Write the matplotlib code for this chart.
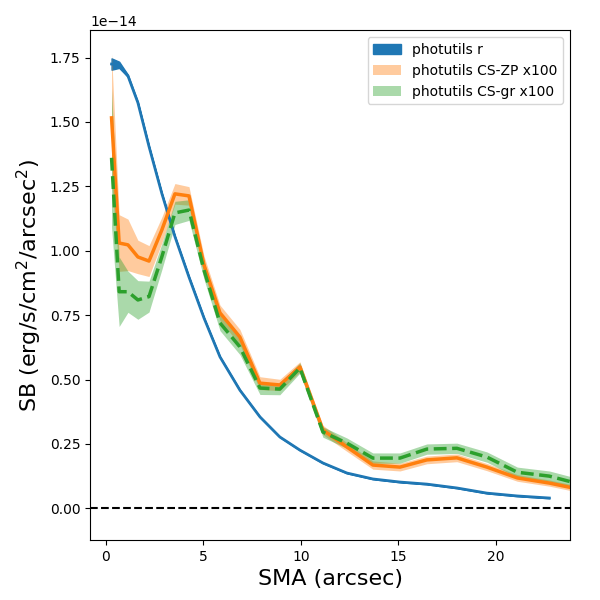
import numpy as np
import matplotlib
matplotlib.use('Agg')
import matplotlib.pyplot as plt

# semi-major axis (arcsec)
sma = np.array([0.29, 0.68, 1.13, 1.64, 2.21, 2.87, 3.54, 4.26, 5.03, 5.85, 6.87, 7.9,
                8.92, 9.95, 11.13, 12.36, 13.69, 15.08, 16.46, 18.0, 19.54, 21.1, 22.74, 24.4])

# surface brightness in units of 1e-14
sb_r = np.array([1.725, 1.722, 1.679, 1.575, 1.405, 1.222, 1.055, 0.898, 0.739, 0.588, 0.459, 0.355,
                 0.277, 0.226, 0.176, 0.137, 0.114, 0.102, 0.094, 0.079, 0.059, 0.048, 0.040])
err_r = np.array([0.022, 0.012, 0.004, 0.002, 0.001, 0.001, 0.001, 0.001, 0.001, 0.001, 0.001, 0.001,
                  0.001, 0.001, 0.001, 0.001, 0.001, 0.001, 0.001, 0.001, 0.001, 0.001, 0.001])

sb_zp = np.array([1.516, 1.03, 1.023, 0.976, 0.96, 1.081, 1.221, 1.213, 0.945, 0.759, 0.665, 0.486,
                  0.479, 0.549, 0.304, 0.238, 0.168, 0.160, 0.188, 0.196, 0.160, 0.118, 0.098, 0.072])
err_zp = np.array([0.25, 0.11, 0.10, 0.065, 0.06, 0.05, 0.04, 0.036, 0.035, 0.03, 0.03, 0.025,
                   0.022, 0.02, 0.018, 0.017, 0.016, 0.015, 0.015, 0.015, 0.014, 0.013, 0.012, 0.012])

sb_gr = np.array([1.361, 0.841, 0.841, 0.809, 0.822, 0.977, 1.147, 1.158, 0.925, 0.72, 0.627, 0.467,
                  0.463, 0.545, 0.296, 0.253, 0.195, 0.195, 0.230, 0.233, 0.199, 0.140, 0.125, 0.092])
err_gr = np.array([0.27, 0.135, 0.08, 0.075, 0.06, 0.05, 0.045, 0.04, 0.035, 0.03, 0.03, 0.025,
                   0.022, 0.02, 0.02, 0.02, 0.02, 0.02, 0.02, 0.02, 0.02, 0.02, 0.02, 0.02])

scale = 1e-14
n_r = len(sb_r)

fig = plt.figure(figsize=(6, 6), dpi=100)
ax = fig.add_axes([0.1505, 0.1, 0.7995, 0.8495])

ax.fill_between(sma[:n_r], (sb_r - err_r) * scale, (sb_r + err_r) * scale,
                color='C0', label='photutils r')
ax.plot(sma[:n_r], sb_r * scale, color='C0', lw=2)

ax.fill_between(sma, (sb_zp - err_zp) * scale, (sb_zp + err_zp) * scale,
                color='C1', alpha=0.4, lw=0, label='photutils CS-ZP x100')
ax.plot(sma, sb_zp * scale, color='C1', lw=2.5)

ax.fill_between(sma, (sb_gr - err_gr) * scale, (sb_gr + err_gr) * scale,
                color='C2', alpha=0.4, lw=0, label='photutils CS-gr x100')
ax.plot(sma, sb_gr * scale, color='C2', lw=2.5, ls='--')

ax.axhline(0, color='k', ls='--', lw=1.5)

ax.set_xlim(-0.8, 23.8)
ax.set_ylim(-0.123e-14, 1.856e-14)
ax.set_xlabel('SMA (arcsec)', fontsize=16)
ax.set_ylabel('SB (erg/s/cm$^2$/arcsec$^2$)', fontsize=16)
ax.legend(loc='upper right')

fig.savefig('out.png', dpi=100)
